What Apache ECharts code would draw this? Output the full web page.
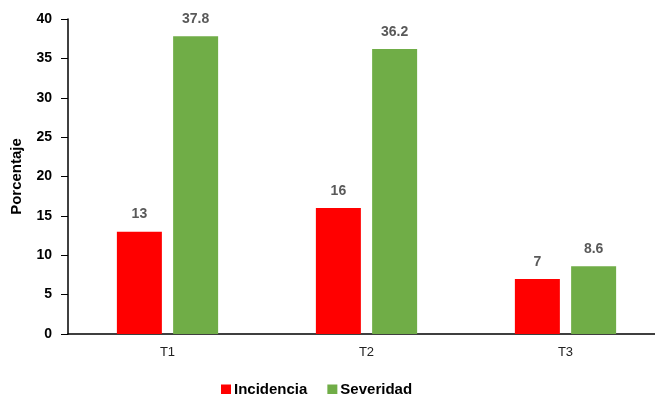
<!DOCTYPE html>
<html>
<head>
<meta charset="utf-8">
<script src="https://cdn.jsdelivr.net/npm/echarts@6/dist/echarts.min.js"></script>
<style>
  html, body { margin: 0; padding: 0; background: #fff; }
  #chart { width: 655px; height: 394px; }
</style>
</head>
<body>
<div id="chart"></div>
<script>
var categories = ['T1', 'T2', 'T3'];
var incidencia = [13, 16, 7];
var severidad = [37.8, 36.2, 8.6];
var yTicks = [0, 40, 5]; // min, max, interval

var font = '"Liberation Sans", Arial, sans-serif';

var myChart = echarts.init(document.getElementById('chart'));

var option = {
	animation: false,
	textStyle: { fontFamily: font },
	grid: {
		left: 68,
		top: 19,
		width: 597,
		height: 315,
		containLabel: false,
		outerBoundsMode: 'none'
	},
	legend: {
		top: 377,
		left: 216,
		itemWidth: 10,
		itemHeight: 10,
		itemGap: 20,
		icon: 'rect',
		textStyle: { fontFamily: font, fontSize: 15, fontWeight: 'bold', color: '#000', padding: [0, 0, 0, -2] },
		data: ['Incidencia', 'Severidad']
	},
	xAxis: {
		type: 'category',
		data: categories,
		axisLine: { lineStyle: { color: '#000', width: 1.5 } },
		axisTick: { show: false },
		axisLabel: { color: '#222', fontSize: 13, fontFamily: font, margin: 12 }
	},
	yAxis: {
		type: 'value',
		min: yTicks[0],
		max: yTicks[1],
		interval: yTicks[2],
		name: 'Porcentaje',
		nameLocation: 'middle',
		nameGap: 44,
		nameTextStyle: { fontFamily: font, fontSize: 15, fontWeight: 'bold', color: '#000' },
		splitLine: { show: false },
		axisLine: { show: true, lineStyle: { color: '#000', width: 1.5 } },
		axisTick: { show: true, length: 7, lineStyle: { color: '#000' } },
		axisLabel: { color: '#000', fontSize: 14, fontWeight: 'bold', fontFamily: font, margin: 16 }
	},
	series: [
		{
			name: 'Incidencia',
			type: 'bar',
			data: incidencia,
			barWidth: 45,
			barGap: '25%',
			itemStyle: { color: '#ff0000' },
			label: { show: true, position: 'top', distance: 10, color: '#595959', fontSize: 14, fontWeight: 'bold', fontFamily: font }
		},
		{
			name: 'Severidad',
			type: 'bar',
			data: severidad,
			barWidth: 45,
			barGap: '25%',
			itemStyle: { color: '#70ad47' },
			label: { show: true, position: 'top', distance: 10, color: '#595959', fontSize: 14, fontWeight: 'bold', fontFamily: font }
		}
	]
};

myChart.setOption(option, true);
</script>
</body>
</html>
